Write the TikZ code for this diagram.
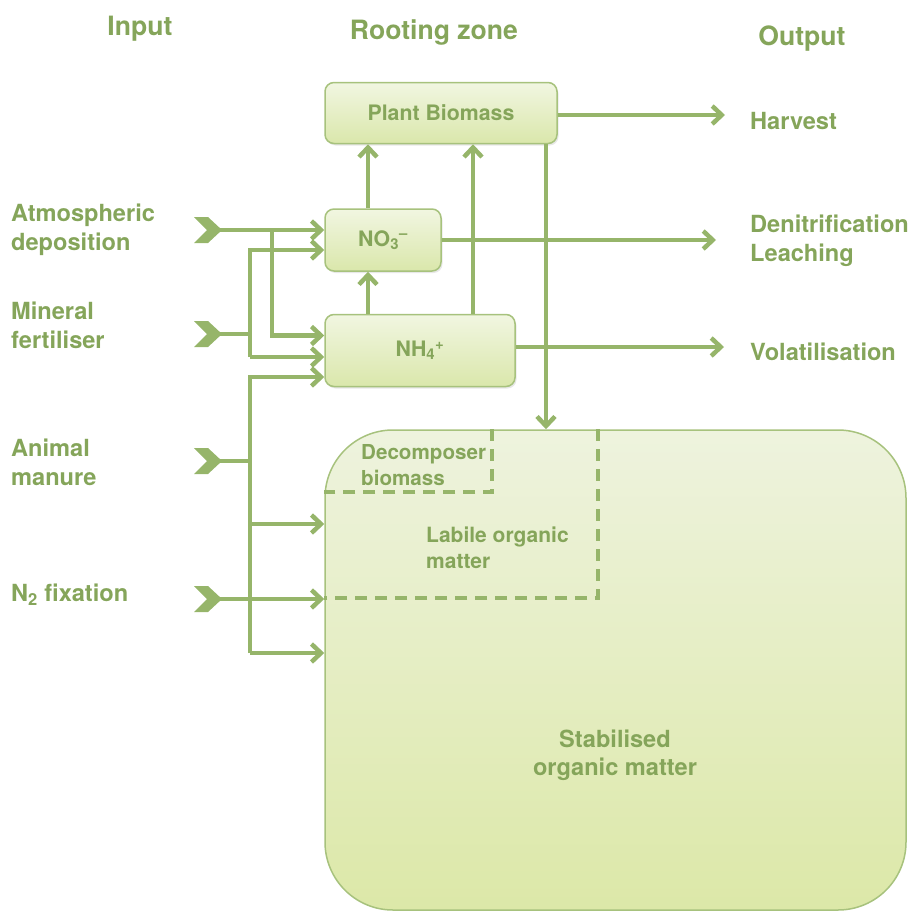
\documentclass[tikz,border=0pt]{standalone}
\usepackage{fontspec}
\setmainfont{TeX Gyre Heros}
\usetikzlibrary{arrows.meta,shadows}
\definecolor{txtg}{HTML}{85A55A}
\definecolor{lineg}{HTML}{96B56A}
\definecolor{boxtop}{HTML}{F1F6E1}
\definecolor{boxbot}{HTML}{DAE7AB}
\definecolor{bigtop}{HTML}{EEF3DE}
\definecolor{bigbot}{HTML}{DCE8A8}
\definecolor{boxdraw}{HTML}{A7C27D}
\tikzset{
  pool/.style={draw=boxdraw, line width=1.5pt, rounded corners=9pt,
    top color=boxtop, bottom color=boxbot, text=txtg, inner sep=0pt,
    font=\bfseries\fontsize{21.3}{25}\selectfont,
    drop shadow={opacity=0.18, shadow xshift=1.5pt, shadow yshift=-2pt}},
  bigpool/.style={draw=boxdraw, line width=1.5pt, rounded corners=68pt,
    top color=bigtop, bottom color=bigbot, inner sep=0pt},
  head/.style={text=txtg, inner sep=0pt, font=\bfseries\fontsize{26.6}{30}\selectfont},
  lab/.style={text=txtg, inner sep=0pt, anchor=west, align=left,
    font=\bfseries\fontsize{23.6}{29}\selectfont},
  inlab/.style={text=txtg, inner sep=0pt, align=left,
    font=\bfseries\fontsize{21}{26}\selectfont},
  flow/.style={draw=lineg, line width=4.5pt, line join=miter,
    -{Straight Barb[length=9.5pt,width=18pt]}},
  plainline/.style={draw=lineg, line width=4.5pt},
  dashline/.style={draw=lineg, line width=4pt, dash pattern=on 12pt off 8pt},
  chev/.style={fill=lineg, draw=none}
}
\begin{document}
\begin{tikzpicture}[x=1pt,y=-1pt]
\useasboundingbox (0,0) rectangle (912,913);

% headers
\node[head] (hIn) at (140,29) {Input};
\node[head] (hRoot) at (434,32) {Rooting zone};
\node[head] (hOut) at (802,39) {Output};

% pools
\node[bigpool, minimum width=581pt, minimum height=480pt] (SOM) at (615.5,670) {};
\node[pool, minimum width=232pt, minimum height=61pt] (PB) at (441,113) {Plant Biomass};
\node[pool, minimum width=116pt, minimum height=62pt] (NO3) at (383,240) {NO\textsubscript{3}\textsuperscript{--}};
\node[pool, minimum width=190pt, minimum height=72pt] (NH4) at (420,350.5) {NH\textsubscript{4}\textsuperscript{+}};

% soil pool labels and dashed boundaries
\draw[dashline] ([xshift=168pt]SOM.north west) |- ([yshift=-63pt]SOM.north west);
\draw[dashline] ([xshift=274pt]SOM.north west) |- ([yshift=-169pt]SOM.north west);
\node[inlab, anchor=west, font=\bfseries\fontsize{20.6}{26}\selectfont] (tDec) at (361,465.5) {Decomposer\\biomass};
\node[inlab, anchor=west] (tLab) at (426,548) {Labile organic\\matter};
\node[inlab, align=center, font=\bfseries\fontsize{23.6}{28}\selectfont] (tSta) at (615,755) {Stabilised\\organic matter};

% input labels
\node[lab] (lAtm) at (11,230) {Atmospheric\\deposition};
\node[lab] (lMin) at (11,325) {Mineral\\fertiliser};
\node[lab] (lMan) at (11,462) {Animal\\manure};
\node[lab] (lN2) at (11,595) {N\textsubscript{2} fixation};

% output labels
\node[lab] (lHar) at (750,121) {Harvest};
\node[lab] (lDen) at (750,241) {Denitrification\\Leaching};
\node[lab] (lVol) at (750,352) {Volatilisation};

% input chevrons
\foreach \yy/\nm in {230/ca,334/cb,461/cc,599/cd}{
  \fill[chev] (194,\yy-13) -- (208,\yy-13) -- (222,\yy) -- (208,\yy+13) -- (194,\yy+13) -- (207,\yy) -- cycle;
  \coordinate (\nm) at (219,\yy);
}

% junctions
\coordinate (ja) at (272,230);
\coordinate (jb) at (250,334);
\coordinate (jbt) at (250,250);
\coordinate (jbb) at (250,357);
\coordinate (jc) at (250,461);
\coordinate (jct) at (250,377);
\coordinate (jd) at (250,524);
\coordinate (jcb) at (250,653);
\coordinate (oH) at (725,115);
\coordinate (oD) at (716,240);
\coordinate (oV) at (724,347);

% atmospheric deposition
\draw[flow] (ca) -- (ca -| NO3.west);
\draw[flow] (ja) |- ([yshift=15pt]NH4.west);
% mineral fertiliser
\draw[plainline] (cb) -- (jb);
\draw[flow] (jbb) -- (jbt) -- (jbt -| NO3.west);
\draw[flow] (jbb) -- (jbb -| NH4.west);
% animal manure
\draw[plainline] (cc) -- (jc);
\draw[flow] (jcb) -- (jct) -- (jct -| NH4.west);
\draw[flow] (jd) -- (jd -| SOM.west);
\draw[flow] (jcb) -- (jcb -| SOM.west);
% N2 fixation
\draw[flow] (cd) -- (cd -| SOM.west);

% internal flows
\draw[flow] ([xshift=-15pt]NO3.north) -- ([xshift=-15pt]NO3.north |- PB.south);
\draw[flow] ([xshift=-52pt]NH4.north) -- ([xshift=-52pt]NH4.north |- NO3.south);
\draw[flow] ([xshift=53pt]NH4.north) -- ([xshift=53pt]NH4.north |- PB.south);
\draw[flow] ([xshift=105pt]PB.south) -- ([xshift=105pt]PB.south |- SOM.north);

% outputs
\draw[flow] (PB.east |- oH) -- (oH);
\draw[flow] (NO3.east |- oD) -- (oD);
\draw[flow] (NH4.east |- oV) -- (oV);
\end{tikzpicture}
\end{document}
